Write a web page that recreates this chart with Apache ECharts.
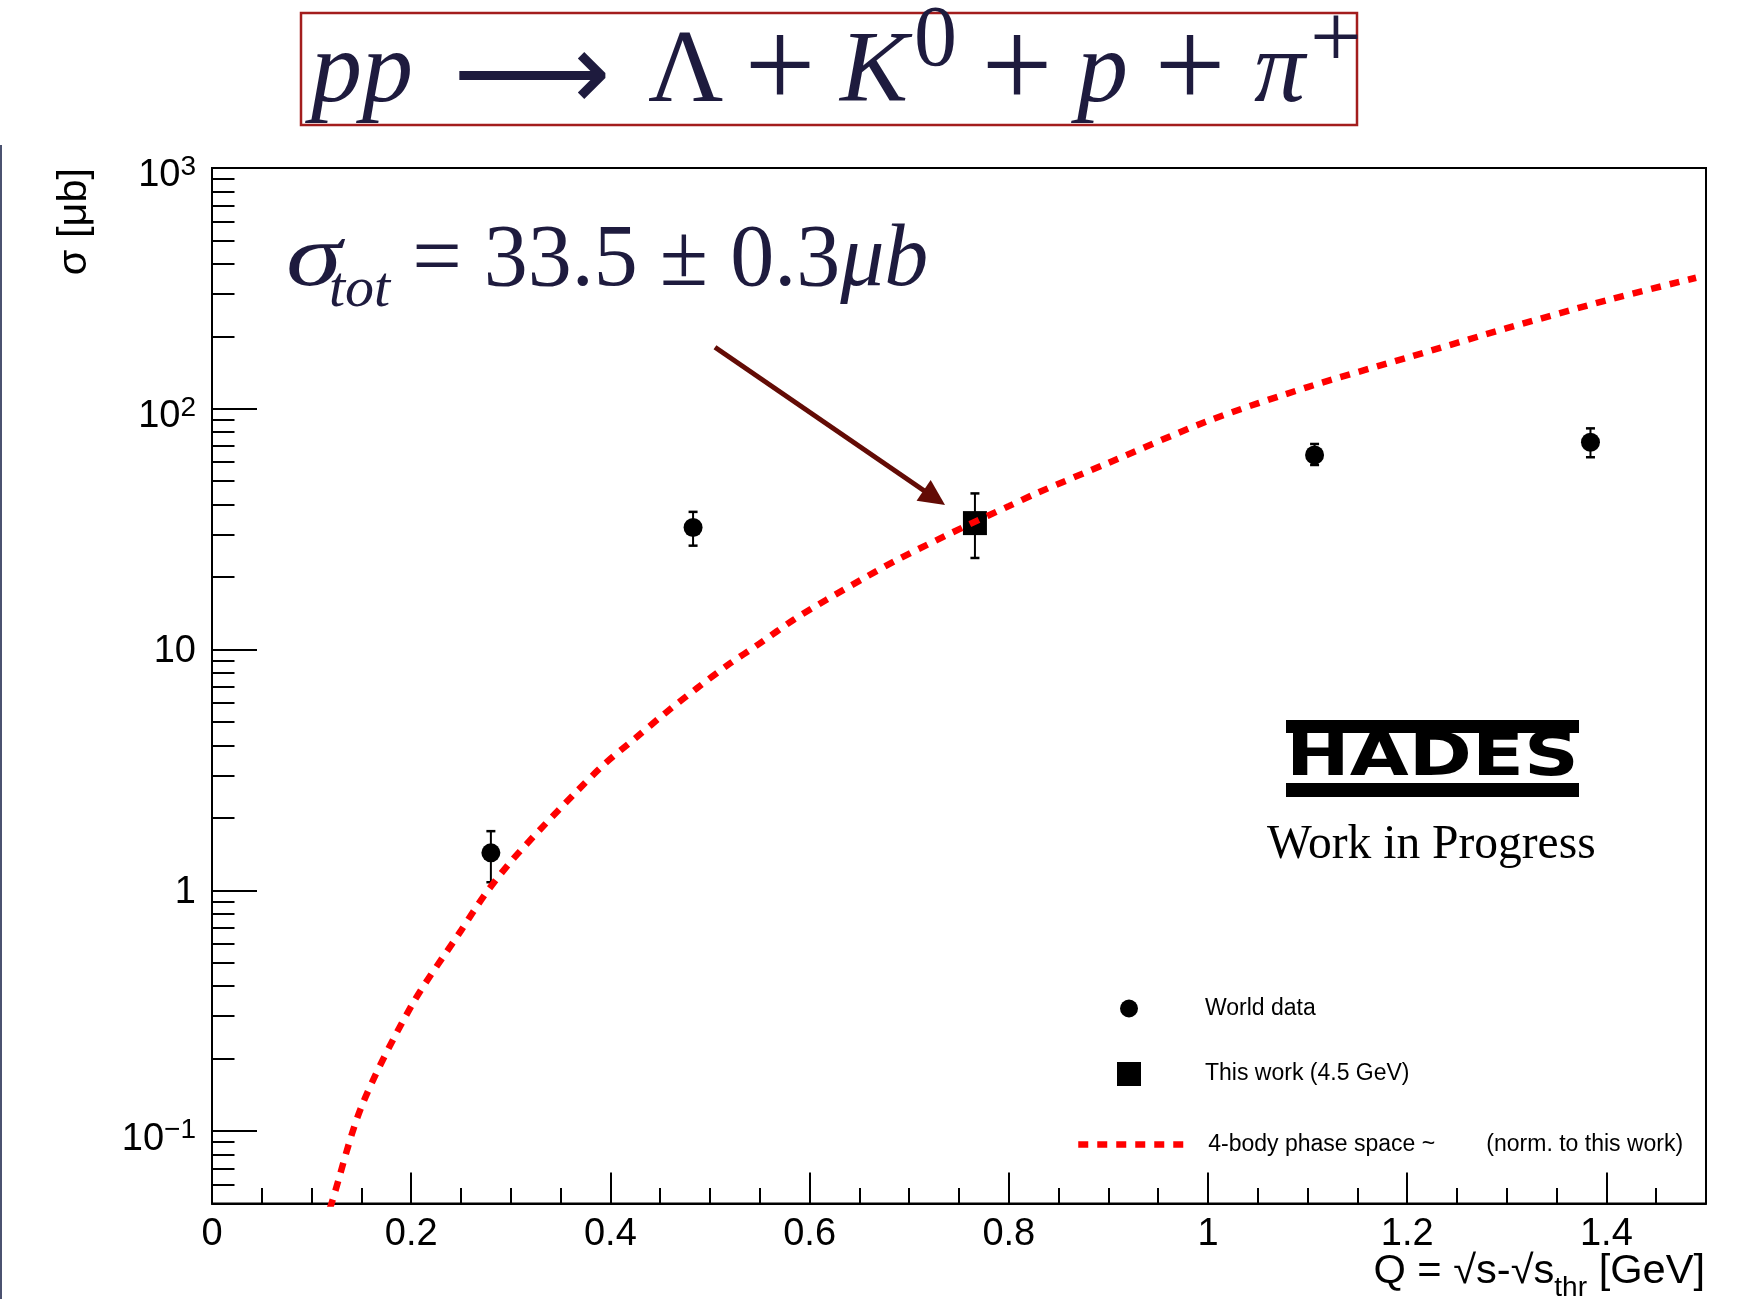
<!DOCTYPE html>
<html>
<head>
<meta charset="utf-8">
<script src="https://cdn.jsdelivr.net/npm/echarts@6/dist/echarts.min.js"></script>
<style>
  html, body { margin: 0; padding: 0; background: #ffffff; }
  #chart { width: 1753px; height: 1299px; }
</style>
</head>
<body>
<div id="chart"></div>
<script>
// ---- Cross-section data: pp -> Lambda K0 p pi+ ----
// World data (Q in GeV, sigma in microbarn, asymmetric errors)
const worldQ        = [0.280, 0.483, 1.107, 1.384];
const worldSigma    = [1.43, 32.1, 64.3, 72.6];
const worldErrUp    = [0.33, 5.2, 7.1, 10.3];
const worldErrDown  = [0.35, 5.1, 5.9, 9.7];

// This work at 4.5 GeV beam energy
const thisQ         = [0.766];
const thisSigma     = [33.5];
const thisErrUp     = [11.0];
const thisErrDown   = [9.5];

// 4-body phase space, normalised to this work
const phaseQ     = [0.112, 0.12, 0.15, 0.2, 0.25, 0.274, 0.299, 0.329, 0.366, 0.395, 0.425, 0.455,
                    0.487, 0.518, 0.550, 0.584, 0.617, 0.652, 0.688, 0.759, 0.8, 0.828,
                    0.9, 1.0, 1.1, 1.2, 1.3, 1.4, 1.49];
const phaseSigma = [0.04, 0.05, 0.126, 0.33, 0.68, 0.96, 1.30, 1.78, 2.57, 3.37, 4.28, 5.44,
                    6.91, 8.63, 10.6, 13.3, 16.1, 19.5, 23.6, 32.9, 39.4, 44.6,
                    59.6, 89, 123, 163, 216, 282, 350];

// Axis ticks
const xMajorTicks = [0, 0.2, 0.4, 0.6, 0.8, 1.0, 1.2, 1.4];
const xMinorTicks = [0.05, 0.1, 0.15, 0.25, 0.3, 0.35, 0.45, 0.5, 0.55, 0.65, 0.7, 0.75,
                     0.85, 0.9, 0.95, 1.05, 1.1, 1.15, 1.25, 1.3, 1.35, 1.45];
const yMajorTicks = [0.1, 1, 10, 100, 1000];
const yMinorTicks = [0.06, 0.07, 0.08, 0.09,
                     0.2, 0.3, 0.4, 0.5, 0.6, 0.7, 0.8, 0.9,
                     2, 3, 4, 5, 6, 7, 8, 9,
                     20, 30, 40, 50, 60, 70, 80, 90,
                     200, 300, 400, 500, 600, 700, 800, 900];

// Annotation arrow (data coordinates): from the label towards the measured point
const arrowFrom = [0.505, 180];
const arrowTo   = [0.736, 39.8];

const SANS = 'Liberation Sans';
const SERIF = 'Liberation Serif';
const INK = '#1e1b3e';
const PHASE_NAME = '4-body phase space ~        (norm. to this work)';

const worldErr = worldQ.map((q, i) => [q, worldSigma[i], worldSigma[i] - worldErrDown[i], worldSigma[i] + worldErrUp[i]]);
const thisErr  = thisQ.map((q, i) => [q, thisSigma[i], thisSigma[i] - thisErrDown[i], thisSigma[i] + thisErrUp[i]]);

function renderErrorBar(params, api) {
  const x = api.value(0);
  const lo = api.coord([x, api.value(2)]);
  const hi = api.coord([x, api.value(3)]);
  const cap = 4.5;
  return {
    type: 'group',
    children: [
      { type: 'line', shape: { x1: lo[0], y1: lo[1], x2: hi[0], y2: hi[1] }, style: { stroke: '#000', lineWidth: 2 } },
      { type: 'line', shape: { x1: lo[0] - cap, y1: lo[1], x2: lo[0] + cap, y2: lo[1] }, style: { stroke: '#000', lineWidth: 2.5 } },
      { type: 'line', shape: { x1: hi[0] - cap, y1: hi[1], x2: hi[0] + cap, y2: hi[1] }, style: { stroke: '#000', lineWidth: 2.5 } }
    ]
  };
}

function renderArrow(params, api) {
  const p0 = api.coord([api.value(0), api.value(1)]);
  const p1 = api.coord([api.value(2), api.value(3)]);
  const dx = p1[0] - p0[0], dy = p1[1] - p0[1];
  const len = Math.sqrt(dx * dx + dy * dy);
  const ux = dx / len, uy = dy / len;
  const headLen = 26, headHalf = 12.5;
  const bx = p1[0] - ux * headLen, by = p1[1] - uy * headLen;
  return {
    type: 'group',
    children: [
      { type: 'line', shape: { x1: p0[0], y1: p0[1], x2: bx + ux * 2, y2: by + uy * 2 },
        style: { stroke: '#630b05', lineWidth: 5 } },
      { type: 'polygon', shape: { points: [[p1[0], p1[1]], [bx - uy * headHalf, by + ux * headHalf], [bx + uy * headHalf, by - ux * headHalf]] },
        style: { fill: '#630b05' } }
    ]
  };
}

function yLabel(v) {
  const e = Math.round(Math.log10(v));
  if (e === 0) return '{p|1}';
  if (e === 1) return '{p|10}';
  return '{b|10}{s|' + (e < 0 ? '\u2212' : '') + Math.abs(e) + '}';
}

const legendText = { fontFamily: SANS, fontSize: 23, color: '#000' };

const option = {
  animation: false,
  backgroundColor: '#ffffff',
  grid: {
    left: 212, top: 168, width: 1494, height: 1035.5,
    show: true, borderColor: '#000', borderWidth: 2, backgroundColor: 'transparent',
    outerBoundsMode: 'none'
  },
  xAxis: [
    {
      type: 'value', min: 0, max: 1.5, interval: 0.2, position: 'bottom',
      axisLine: { show: true, onZero: false, lineStyle: { color: '#000', width: 2 } },
      axisTick: { show: true, inside: true, length: 31, customValues: xMajorTicks, lineStyle: { color: '#000', width: 2 } },
      axisLabel: {
        show: true, customValues: xMajorTicks, margin: 12,
        fontFamily: SANS, fontSize: 38, color: '#000',
        formatter: v => String(Math.round(v * 10) / 10)
      },
      splitLine: { show: false }
    },
    {
      type: 'value', min: 0, max: 1.5, interval: 0.2, position: 'bottom',
      axisLine: { show: false },
      axisTick: { show: true, inside: true, length: 15.5, customValues: xMinorTicks, lineStyle: { color: '#000', width: 2 } },
      axisLabel: { show: false },
      splitLine: { show: false }
    }
  ],
  yAxis: [
    {
      type: 'log', logBase: 10, min: 0.05, max: 1000, position: 'left',
      axisLine: { show: true, onZero: false, lineStyle: { color: '#000', width: 2 } },
      axisTick: { show: true, inside: true, length: 45, customValues: yMajorTicks, lineStyle: { color: '#000', width: 2 } },
      axisLabel: {
        show: true, customValues: yMajorTicks, margin: 16, formatter: yLabel,
        padding: [4, 0, 0, 0],
        rich: {
          p: { fontFamily: SANS, fontSize: 38, lineHeight: 38, color: '#000' },
          b: { fontFamily: SANS, fontSize: 38, lineHeight: 50, color: '#000', verticalAlign: 'bottom' },
          s: { fontFamily: SANS, fontSize: 28, lineHeight: 28, color: '#000', verticalAlign: 'bottom', padding: [0, 0, 13.5, 0] }
        }
      },
      splitLine: { show: false }
    },
    {
      type: 'log', logBase: 10, min: 0.05, max: 1000, position: 'left',
      axisLine: { show: false },
      axisTick: { show: true, inside: true, length: 22.5, customValues: yMinorTicks, lineStyle: { color: '#000', width: 2 } },
      axisLabel: { show: false },
      splitLine: { show: false }
    }
  ],
  legend: [
    {
      data: [{ name: 'World data', icon: 'circle' }],
      left: 1120, top: 997, padding: 0, itemWidth: 18, itemHeight: 18, selectedMode: false,
      formatter: n => '{g|}{t|' + n + '}',
      textStyle: { rich: { g: { width: 62 }, t: legendText } }
    },
    {
      data: [{ name: 'This work (4.5 GeV)', icon: 'rect' }],
      left: 1117, top: 1062, padding: 0, itemWidth: 24, itemHeight: 24, selectedMode: false,
      formatter: n => '{g|}{t|' + n + '}',
      textStyle: { rich: { g: { width: 59 }, t: legendText } }
    },
    {
      data: [{
        name: PHASE_NAME,
        itemStyle: { opacity: 0 },
        lineStyle: { color: '#ff0000', width: 6.5, type: [10, 9], cap: 'butt', opacity: 1 }
      }],
      left: 1075, top: 1133, padding: 0, itemWidth: 110, itemHeight: 20, selectedMode: false,
      formatter: n => '{g|}{t|' + n + '}',
      textStyle: { rich: { g: { width: 15 }, t: legendText } }
    }
  ],
  series: [
    {
      name: 'World data errors', type: 'custom', renderItem: renderErrorBar,
      data: worldErr, encode: { x: 0, y: 1 }, z: 3, silent: true
    },
    {
      name: 'This work errors', type: 'custom', renderItem: renderErrorBar,
      data: thisErr, encode: { x: 0, y: 1 }, z: 3, silent: true
    },
    {
      name: 'World data', type: 'scatter', symbol: 'circle', symbolSize: 19,
      itemStyle: { color: '#000', opacity: 1 }, z: 4,
      data: worldQ.map((q, i) => [q, worldSigma[i]])
    },
    {
      name: 'This work (4.5 GeV)', type: 'scatter', symbol: 'rect', symbolSize: 24,
      itemStyle: { color: '#000', opacity: 1 }, z: 4,
      data: thisQ.map((q, i) => [q, thisSigma[i]])
    },
    {
      name: PHASE_NAME, type: 'line',
      symbol: 'none', smooth: 0.3, clip: true, z: 5,
      lineStyle: { color: '#ff0000', width: 6.5, type: [10, 9], cap: 'butt' },
      itemStyle: { color: '#ff0000' },
      data: phaseQ.map((q, i) => [q, phaseSigma[i]])
    },
    {
      name: 'arrow', type: 'custom', renderItem: renderArrow, z: 6, silent: true,
      data: [[arrowFrom[0], arrowFrom[1], arrowTo[0], arrowTo[1]]],
      encode: { x: [0, 2], y: [1, 3] }
    }
  ],
  graphic: [
    // thin frame line at the left page edge
    { type: 'rect', shape: { x: 0, y: 145, width: 2, height: 1160 }, style: { fill: '#4b5270' }, silent: true },

    // reaction title in a framed box
    { type: 'rect', shape: { x: 301, y: 13, width: 1056, height: 112 }, style: { fill: 'none', stroke: '#a31d1d', lineWidth: 2.5 } },
    { type: 'text', x: 311, y: 74, style: { text: 'pp', font: 'italic 102px "Liberation Serif"', fill: INK, align: 'left', verticalAlign: 'middle' } },
    { type: 'text', x: 532, y: 81, style: { text: '\u27F6', font: '110px "DejaVu Sans"', fill: INK, align: 'center', verticalAlign: 'middle' } },
    { type: 'text', x: 648, y: 73.5, style: { text: '\u039B', font: '104px "Liberation Serif"', fill: INK, align: 'left', verticalAlign: 'middle' } },
    { type: 'text', x: 780, y: 74, style: { text: '+', font: '126px "Liberation Serif"', fill: INK, align: 'center', verticalAlign: 'middle' } },
    { type: 'text', x: 840, y: 74, style: { text: 'K', font: 'italic 102px "Liberation Serif"', fill: INK, align: 'left', verticalAlign: 'middle' } },
    { type: 'text', x: 914, y: 42.5, style: { text: '0', font: '86px "Liberation Serif"', fill: INK, align: 'left', verticalAlign: 'middle' } },
    { type: 'text', x: 1017, y: 74, style: { text: '+', font: '126px "Liberation Serif"', fill: INK, align: 'center', verticalAlign: 'middle' } },
    { type: 'text', x: 1077, y: 74, style: { text: 'p', font: 'italic 102px "Liberation Serif"', fill: INK, align: 'left', verticalAlign: 'middle' } },
    { type: 'text', x: 1190, y: 74, style: { text: '+', font: '126px "Liberation Serif"', fill: INK, align: 'center', verticalAlign: 'middle' } },
    { type: 'text', x: 1254, y: 74, style: { text: '\u03C0', font: 'italic 102px "Liberation Serif"', fill: INK, align: 'left', verticalAlign: 'middle' } },
    { type: 'text', x: 1336, y: 42.5, style: { text: '+', font: '92px "Liberation Serif"', fill: INK, align: 'center', verticalAlign: 'middle' } },

    // total cross section of this work
    { type: 'text', x: 286, y: 262, scaleX: 1.28,
      style: { text: '\u03C3', font: 'italic 88px "Liberation Serif"', fill: INK, align: 'left', verticalAlign: 'middle' } },
    {
      type: 'text', x: 329, y: 218,
      style: {
        text: '{sub|tot}{r| = 33.5 \u00B1 0.3}{m|\u03BCb}',
        align: 'left', verticalAlign: 'top',
        rich: {
          m: { fontFamily: SERIF, fontStyle: 'italic', fontSize: 88, lineHeight: 88, fill: INK, verticalAlign: 'top' },
          r: { fontFamily: SERIF, fontSize: 88, lineHeight: 88, fill: INK, verticalAlign: 'top' },
          sub: { fontFamily: SERIF, fontStyle: 'italic', fontSize: 58, lineHeight: 58, fill: INK, verticalAlign: 'top', padding: [43.5, 0, 0, 0] }
        }
      }
    },

    // experiment logo and status
    { type: 'rect', shape: { x: 1286, y: 720, width: 293, height: 13 }, style: { fill: '#000' } },
    { type: 'rect', shape: { x: 1286, y: 783, width: 293, height: 14 }, style: { fill: '#000' } },
    { type: 'text', x: 1286, y: 759.5, scaleX: 1.27,
      style: { text: 'HADES', font: 'bold 60px "DejaVu Sans"', fill: '#000', align: 'left', verticalAlign: 'middle' } },
    { type: 'text', x: 1267, y: 846,
      style: { text: 'Work in Progress', font: '47.5px "Liberation Serif"', fill: '#000', align: 'left', verticalAlign: 'middle' } },

    // axis titles
    { type: 'text', x: 75, y: 168, rotation: Math.PI / 2,
      style: { text: '\u03C3 [\u03BCb]', font: '41.5px "Liberation Sans"', fill: '#000', align: 'right', verticalAlign: 'middle' } },
    {
      type: 'text', x: 1705, y: 1252, scaleX: 1.04,
      style: {
        text: '{n|Q = \u221As-\u221As}{sub|thr}{n| [GeV]}',
        align: 'right', verticalAlign: 'top',
        rich: {
          n: { fontFamily: SANS, fontSize: 40, lineHeight: 40, fill: '#000', verticalAlign: 'top' },
          sub: { fontFamily: SANS, fontSize: 27, lineHeight: 27, fill: '#000', verticalAlign: 'top', padding: [23.5, 0, 0, 0] }
        }
      }
    }
  ]
};

const chart = echarts.init(document.getElementById('chart'), null, { renderer: 'canvas', width: 1753, height: 1299 });
chart.setOption(option);
</script>
</body>
</html>
